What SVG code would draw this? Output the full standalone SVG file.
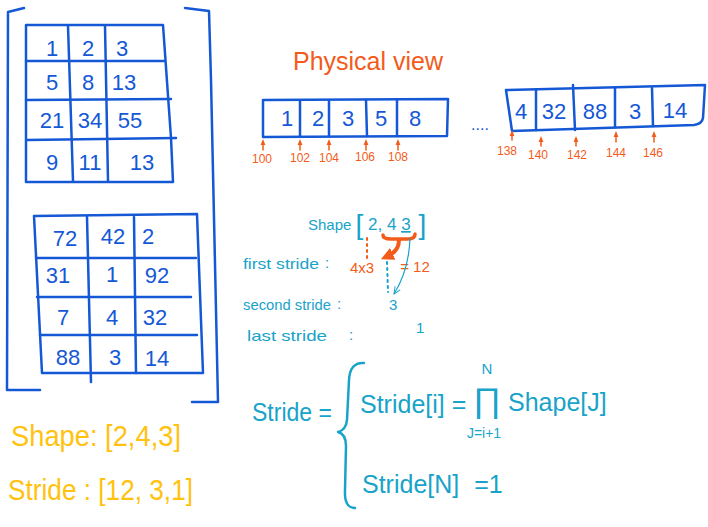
<svg xmlns="http://www.w3.org/2000/svg" width="708" height="527" viewBox="0 0 708 527">
<style>
.bl{fill:none;stroke:#1558D6;stroke-width:2.5;stroke-linecap:round;stroke-linejoin:round}
.bt{fill:#1558D6;font-family:"Liberation Sans",Arial,sans-serif;font-size:22px;text-anchor:middle}
.or{fill:none;stroke:#F35B1A;stroke-width:1.5;stroke-linecap:round}
.ot{fill:#F35B1A;font-family:"Liberation Sans",Arial,sans-serif;text-anchor:middle}
.cy{fill:none;stroke:#18A3C9;stroke-width:2.5;stroke-linecap:round;stroke-linejoin:round}
.ct{fill:#18A3C9;font-family:"Liberation Sans",Arial,sans-serif}
.yt{fill:#FFC20E;font-family:"Liberation Sans",Arial,sans-serif;font-size:29px}
</style>
<defs>
<marker id="oa" viewBox="0 0 10 10" refX="5" refY="5" markerWidth="6" markerHeight="6" markerUnits="userSpaceOnUse" orient="auto"><path d="M0,1 L10,5 L0,9 Z" fill="#F35B1A"/></marker>
<marker id="ob" viewBox="0 0 10 10" refX="4" refY="5" markerWidth="13" markerHeight="13" markerUnits="userSpaceOnUse" orient="auto"><path d="M0,0 L10,5 L0,10 Z" fill="#F35B1A"/></marker>
<marker id="ca" viewBox="0 0 10 10" refX="9" refY="5" markerWidth="8" markerHeight="8" markerUnits="userSpaceOnUse" orient="auto"><path d="M0,1 L9,5 L0,9" fill="none" stroke="#18A3C9" stroke-width="1.2"/></marker>
</defs>

<g id="tensor">
<path class="bl" d="M24,8 L8,12 L7,390 L40,390"/>
<path class="bl" d="M185,8 L209,11 L211,80 L218,402 L192,402"/>
</g>

<g id="matrix1">
<path class="bl" d="M26,25 L163,25 L171,138 L173,182 L26,182 Z"/>
<path class="bl" d="M26,61 L164,61 M26,100 L171,99 M27,140 L176,138"/>
<path class="bl" d="M68,26 L73,181 M105,26 L108,181"/>
<text class="bt" x="52" y="56">1</text><text class="bt" x="88" y="56">2</text><text class="bt" x="122" y="56">3</text>
<text class="bt" x="52" y="90">5</text><text class="bt" x="88" y="90">8</text><text class="bt" x="124" y="90">13</text>
<text class="bt" x="52" y="128">21</text><text class="bt" x="90" y="128">34</text><text class="bt" x="130" y="128">55</text>
<text class="bt" x="52" y="170">9</text><text class="bt" x="90" y="170">11</text><text class="bt" x="142" y="170">13</text>
</g>

<g id="matrix2">
<path class="bl" d="M34,216 L197,214 L203,373 L42,373 Z"/>
<path class="bl" d="M36,258 L196,258 M37,297 L191,297 M40,335 L197,335"/>
<path class="bl" d="M87,217 L91,382 M134,217 L136,373"/>
<text class="bt" x="65" y="246">72</text><text class="bt" x="113" y="244">42</text><text class="bt" x="148" y="244">2</text>
<text class="bt" x="58" y="283" font-size="18">31</text><text class="bt" x="112" y="282">1</text><text class="bt" x="157" y="283">92</text>
<text class="bt" x="63" y="325">7</text><text class="bt" x="112" y="325">4</text><text class="bt" x="155" y="325">32</text>
<text class="bt" x="68" y="365">88</text><text class="bt" x="115" y="365">3</text><text class="bt" x="157" y="366">14</text>
</g>

<g id="physical-title">
<text class="ot" x="368" y="70" font-size="25">Physical view</text>
</g>

<g id="array1">
<path class="bl" d="M263,100 L448,99 L447,136 L263,137 Z"/>
<path class="bl" d="M300,101 L300,136 M329,101 L329,136 M366,100 L367,136 M397,100 L397,136"/>
<text class="bt" x="287" y="126">1</text><text class="bt" x="318" y="126">2</text><text class="bt" x="348" y="126">3</text><text class="bt" x="381" y="126">5</text><text class="bt" x="415" y="126">8</text>
</g>

<g id="dots">
<text x="480" y="130" fill="#1558D6" font-family="Liberation Sans,Arial,sans-serif" font-size="16" text-anchor="middle">....</text>
</g>

<g id="array2">
<path class="bl" d="M506,90 L705,85 L703,118 Q702,124 694,125 L512,131 Z"/>
<path class="bl" d="M536,90 L536,130 M573,85 L575,130 M615,88 L615,127 M652,88 L653,126"/>
<text class="bt" x="521" y="119">4</text><text class="bt" x="554" y="119">32</text><text class="bt" x="595" y="119">88</text><text class="bt" x="635" y="119">3</text><text class="bt" x="675" y="118">14</text>
</g>

<g id="addresses">
<path class="or" marker-end="url(#oa)" d="M263,150 L263,142"/>
<path class="or" marker-end="url(#oa)" d="M300,150 L300,142"/>
<path class="or" marker-end="url(#oa)" d="M329,150 L329,142"/>
<path class="or" marker-end="url(#oa)" d="M366,150 L366,142"/>
<path class="or" marker-end="url(#oa)" d="M398,150 L398,142"/>
<path class="or" marker-end="url(#oa)" d="M512,140 L512,133"/>
<path class="or" marker-end="url(#oa)" d="M541,146 L541,139"/>
<path class="or" marker-end="url(#oa)" d="M576,146 L576,139"/>
<path class="or" marker-end="url(#oa)" d="M616,142 L616,134"/>
<path class="or" marker-end="url(#oa)" d="M654,142 L654,134"/>
<text class="ot" x="262" y="163" font-size="12">100</text><text class="ot" x="300" y="162" font-size="12">102</text><text class="ot" x="329" y="162" font-size="12">104</text><text class="ot" x="365" y="161" font-size="12">106</text><text class="ot" x="398" y="161" font-size="12">108</text>
<text class="ot" x="507" y="155" font-size="12">138</text><text class="ot" x="538" y="159" font-size="12">140</text><text class="ot" x="577" y="159" font-size="12">142</text><text class="ot" x="616" y="157" font-size="12">144</text><text class="ot" x="653" y="157" font-size="12">146</text>
</g>

<g id="shape-example">
<text class="ct" x="308" y="230" font-size="15">Shape <tspan font-size="28" dy="4">[</tspan><tspan font-size="17" dy="-4"> 2, 4 </tspan><tspan font-size="17" text-decoration="underline">3</tspan><tspan font-size="28" dy="4"> ]</tspan></text>
</g>

<g id="stride-steps">
<text class="ct" x="243" y="269" font-size="15" textLength="76" lengthAdjust="spacingAndGlyphs">first stride</text>
<text class="ct" x="325" y="268" font-size="15">:</text>
<text class="ct" x="243" y="310" font-size="15" textLength="88" lengthAdjust="spacingAndGlyphs">second stride</text>
<text class="ct" x="337" y="309" font-size="15">:</text>
<text class="ct" x="247" y="341" font-size="15" textLength="80" lengthAdjust="spacingAndGlyphs">last stride</text>
<text class="ct" x="349" y="340" font-size="15">:</text>
<text class="ot" x="362" y="273" font-size="15">4x3</text>
<text class="ot" x="415" y="272" font-size="15">= 12</text>
<text class="ct" x="389" y="310" font-size="15">3</text>
<text class="ct" x="416" y="333" font-size="15">1</text>
</g>

<g id="connectors">
<path d="M383,235 Q383,239 391,239 L408,239 Q415,239 415,234" fill="none" stroke="#F35B1A" stroke-width="3.5" stroke-linecap="round"/>
<path d="M399,240 Q399,251 388,256" fill="none" stroke="#F35B1A" stroke-width="4" stroke-linecap="round" marker-end="url(#ob)"/>
<path d="M367,238 L367,258" fill="none" stroke="#F35B1A" stroke-width="2" stroke-dasharray="2,4" stroke-linecap="round"/>
<path d="M387,262 L388,292" fill="none" stroke="#18A3C9" stroke-width="2" stroke-dasharray="2,4" stroke-linecap="round"/>
<path d="M410,238 Q409,270 394,294" fill="none" stroke="#18A3C9" stroke-width="1.2" marker-end="url(#ca)"/>
</g>

<g id="formula">
<text class="ct" x="252" y="421" font-size="25" textLength="80" lengthAdjust="spacingAndGlyphs">Stride =</text>
<path class="cy" d="M364,363 Q350,362 349,380 L347,420 Q346,430 338,432 Q346,434 346,446 L345,490 Q344,508 355,508"/>
<text class="ct" x="360" y="413" font-size="25">Stride[i] =</text>
<text class="ct" x="473" y="412" font-size="34">∏</text>
<text class="ct" x="508" y="411" font-size="25">Shape[J]</text>
<text class="ct" x="487" y="374" font-size="15" text-anchor="middle">N</text>
<text class="ct" x="484" y="438" font-size="14" text-anchor="middle">J=i+1</text>
<text class="ct" x="362" y="493" font-size="25">Stride[N] <tspan dx="8">=1</tspan></text>
</g>

<g id="summary">
<text class="yt" x="11" y="446" textLength="170" lengthAdjust="spacingAndGlyphs">Shape: [2,4,3]</text>
<text class="yt" x="8" y="500" textLength="185" lengthAdjust="spacingAndGlyphs">Stride : [12, 3,1]</text>
</g>
</svg>
